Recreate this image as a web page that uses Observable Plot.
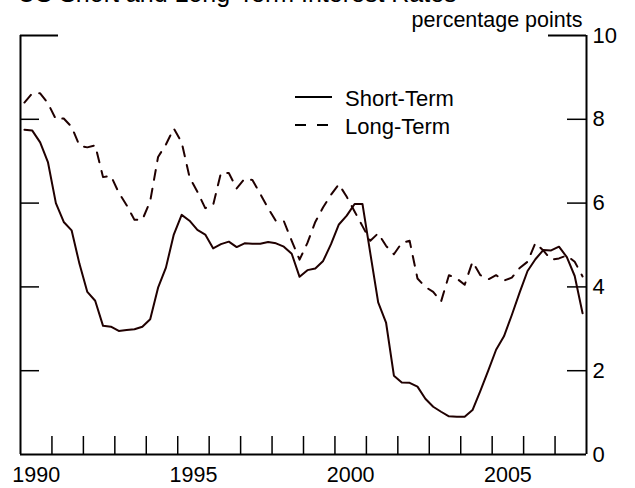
<!DOCTYPE html>
<html><head><meta charset="utf-8">
<script src="https://cdn.jsdelivr.net/npm/d3@7"></script>
<script src="https://cdn.jsdelivr.net/npm/@observablehq/plot@0.6"></script>
<style>
body{margin:0;background:#fff;font-family:"Liberation Sans",Arial,sans-serif;}
#wrap{position:relative;width:635px;height:488px;overflow:hidden;}
#legend{position:absolute;left:0;top:0;}
</style></head><body><div id="wrap"></div>
<script>
// Quarterly data, 1990Q1 .. 2007Q4
const firstYear = 1990;
const shortTerm = [
  7.75, 7.73, 7.45, 6.97,
  6.00, 5.55, 5.35, 4.55,
  3.88, 3.67, 3.07, 3.05,
  2.95, 2.97, 2.99, 3.05,
  3.23, 3.98, 4.46, 5.25,
  5.72, 5.58, 5.36, 5.25,
  4.92, 5.02, 5.08, 4.95,
  5.04, 5.03, 5.03, 5.07,
  5.04, 4.96, 4.79, 4.24,
  4.40, 4.44, 4.62, 5.02,
  5.49, 5.70, 5.98, 5.98,
  4.80, 3.63, 3.15, 1.88,
  1.72, 1.71, 1.62, 1.33,
  1.14, 1.02, 0.91, 0.90,
  0.90, 1.06, 1.52, 2.00,
  2.50, 2.82, 3.33, 3.87,
  4.38, 4.66, 4.88, 4.87,
  4.96, 4.71, 4.26, 3.37
];
const longTerm = [
  8.40, 8.62, 8.62, 8.38,
  8.00, 8.02, 7.82, 7.37,
  7.33, 7.38, 6.62, 6.65,
  6.25, 5.95, 5.60, 5.60,
  6.05, 7.10, 7.40, 7.78,
  7.45, 6.62, 6.27, 5.88,
  5.95, 6.72, 6.72, 6.35,
  6.58, 6.55, 6.22, 5.88,
  5.57, 5.57, 5.10, 4.65,
  5.05, 5.55, 5.90, 6.20,
  6.45, 6.15, 5.80, 5.45,
  5.10, 5.28, 4.98, 4.78,
  5.05, 5.10, 4.20, 4.00,
  3.88, 3.65, 4.28, 4.20,
  4.05, 4.60, 4.28, 4.18,
  4.28, 4.15, 4.22, 4.45,
  4.60, 5.05, 4.87, 4.65,
  4.68, 4.75, 4.60, 4.25
];
const xDomain = [1990, 2008];
const yearTicks = [1991,1992,1993,1994,1995,1996,1997,1998,1999,2000,2001,2002,2003,2004,2005,2006,2007];
const yearLabels = [1990, 1995, 2000, 2005];
const yTicks = [0, 2, 4, 6, 8, 10];
const yInnerTicks = [2, 4, 6, 8];
const yTopTick = [10];

const data = shortTerm.map((v, i) => ({
  t: firstYear + Math.floor(i / 4) + (i % 4) * 0.25 + 0.125,
  short: v,
  long: longTerm[i]
}));

const W = 635, H = 488;
const mL = 20, mR = 49, mT = 35, mB = 34;
const pw = W - mL - mR, ph = H - mT - mB;
const lineColor = "#200000";

const chart = Plot.plot({
  width: W, height: H,
  marginLeft: mL, marginRight: mR, marginTop: mT, marginBottom: mB,
  style: {fontFamily: '"Liberation Sans", Arial, sans-serif', background: "#fff", overflow: "visible"},
  x: {domain: xDomain, axis: null},
  y: {domain: [0, 10], axis: null},
  marks: [
    Plot.ruleY([0], {strokeWidth: 2, stroke: "#000"}),
    Plot.ruleX(xDomain, {strokeWidth: 2, stroke: "#000"}),
    Plot.ruleX(yearTicks, {insetTop: ph - 18, strokeWidth: 1.5, stroke: "#000"}),
    Plot.ruleY(yInnerTicks, {insetRight: pw - 19, strokeWidth: 1.5, stroke: "#000"}),
    Plot.ruleY(yInnerTicks, {insetLeft: pw - 19, strokeWidth: 1.5, stroke: "#000"}),
    Plot.ruleY(yTopTick, {insetRight: pw - 38, strokeWidth: 1.8, stroke: "#000"}),
    Plot.ruleY(yTopTick, {insetLeft: pw - 38, strokeWidth: 1.8, stroke: "#000"}),
    Plot.line(data, {x: "t", y: "long", stroke: lineColor, strokeWidth: 2, strokeDasharray: "10,9"}),
    Plot.line(data, {x: "t", y: "short", stroke: lineColor, strokeWidth: 2}),
    Plot.axisX(yearLabels.map(y => y + 0.5), {tickSize: 0, tickPadding: 12, fontSize: 21.5, tickFormat: d => String(Math.floor(d)), label: null}),
    Plot.axisY(yTicks, {anchor: "right", tickSize: 0, tickPadding: 6, fontSize: 22, label: null}),
    Plot.text(["US Short and Long-Term Interest Rates"], {frameAnchor: "top-left", textAnchor: "start", lineAnchor: "top", dx: -3, dy: -51, fontSize: 25, fill: "#000"}),
    Plot.text(["percentage points"], {frameAnchor: "top-right", textAnchor: "end", lineAnchor: "top", dx: -4, dy: -24, fontSize: 21.5, fill: "#000"})
  ]
});
const wrap = document.getElementById("wrap");
wrap.appendChild(chart);

// legend overlay
const ns = "http://www.w3.org/2000/svg";
const leg = document.createElementNS(ns, "svg");
leg.setAttribute("id", "legend");
leg.setAttribute("width", W);
leg.setAttribute("height", H);
leg.setAttribute("font-family", '"Liberation Sans", Arial, sans-serif');
const seriesNames = ["Short-Term", "Long-Term"];
const dashes = [null, "11,11"];
const rows = [{ly: 97, ty: 106}, {ly: 125, ty: 134}];
seriesNames.forEach((name, i) => {
  const l = document.createElementNS(ns, "line");
  l.setAttribute("x1", 295); l.setAttribute("x2", 332);
  l.setAttribute("y1", rows[i].ly); l.setAttribute("y2", rows[i].ly);
  l.setAttribute("stroke", "#000"); l.setAttribute("stroke-width", 2);
  if (dashes[i]) l.setAttribute("stroke-dasharray", dashes[i]);
  leg.appendChild(l);
  const t = document.createElementNS(ns, "text");
  t.setAttribute("x", 345); t.setAttribute("y", rows[i].ty);
  t.setAttribute("font-size", 22);
  t.textContent = name;
  leg.appendChild(t);
});
wrap.appendChild(leg);
</script></body></html>
